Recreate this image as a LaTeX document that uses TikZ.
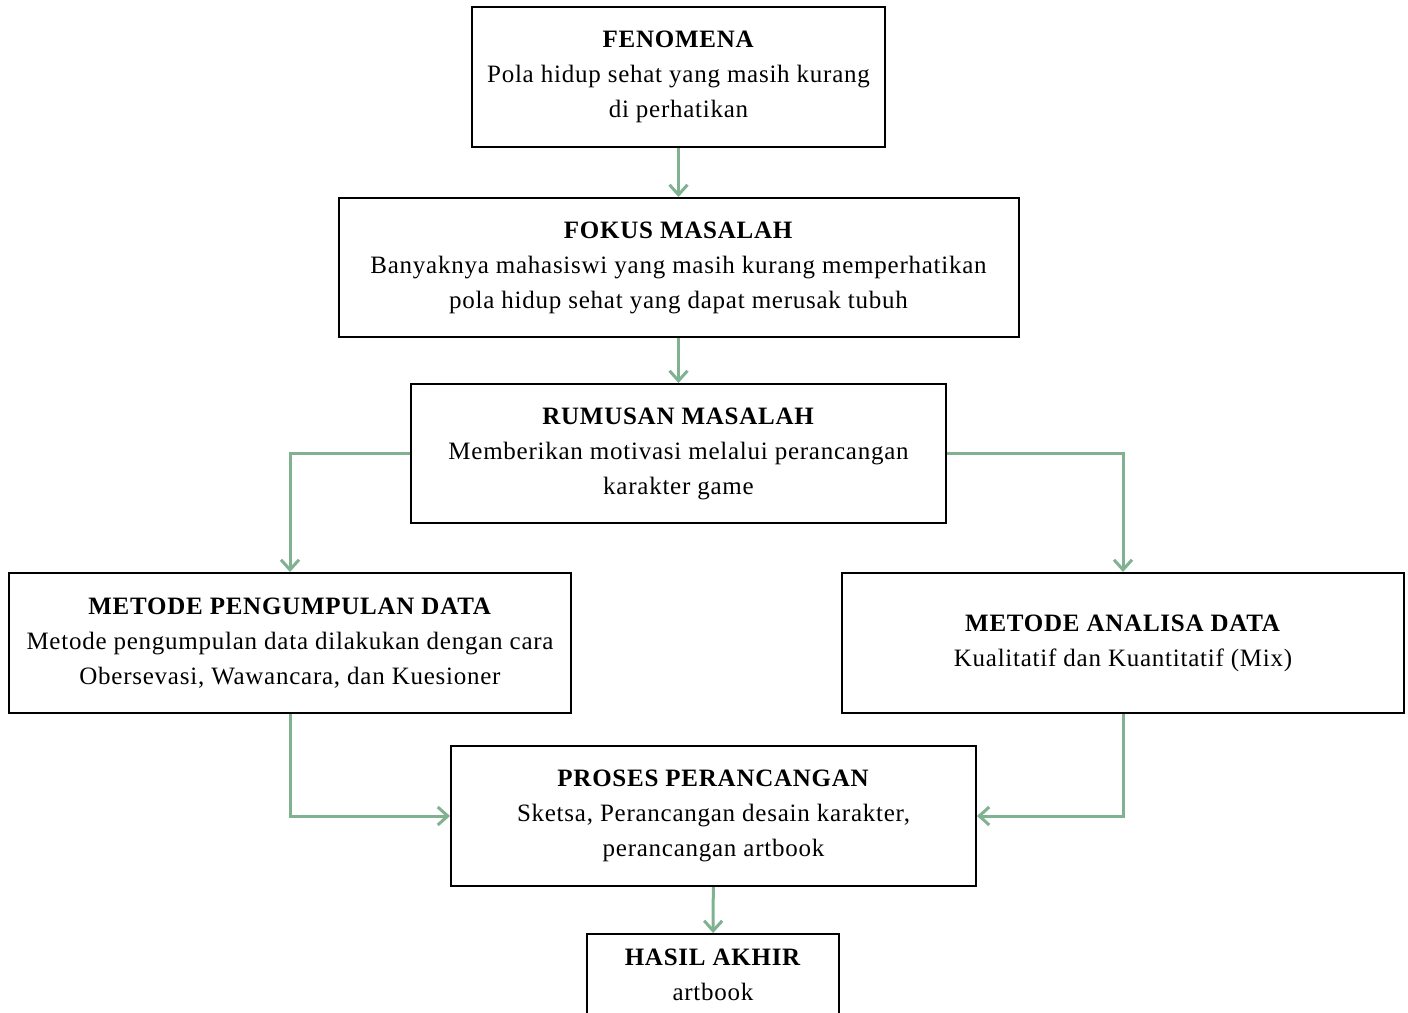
\documentclass[tikz,border=0pt]{standalone}
\usepackage{fontspec}
\setmainfont{Liberation Serif}[LetterSpace=3]
\usetikzlibrary{arrows.meta, positioning}
\definecolor{hijau}{RGB}{128,178,145}

\begin{document}
\begin{tikzpicture}[
    x=1pt, y=1pt,
    punkt/.style = {rectangle, draw, line width=1pt, align=center, inner sep=0pt,
                    font=\fontsize{12.5}{17.5}\selectfont},
    pil/.style = {hijau, line width=1.5pt, -{Straight Barb[length=5pt,width=9pt]}},
    ]
  \useasboundingbox (0,0) rectangle (704,-506);

  \node[punkt, minimum width=206.5pt, minimum height=70pt] (fenomena) at (339.25,-38.5)
    {\textbf{FENOMENA}\\Pola hidup sehat yang masih kurang\\di perhatikan} ;
  \node[punkt, minimum width=340pt, minimum height=69.5pt] (fokus) [below=24.5pt of fenomena]
    {\textbf{FOKUS MASALAH}\\Banyaknya mahasiswi yang masih kurang memperhatikan\\pola hidup sehat yang dapat merusak tubuh} ;
  \node[punkt, minimum width=267.5pt, minimum height=69.5pt] (rumusan) [below=22.5pt of fokus]
    {\textbf{RUMUSAN MASALAH}\\Memberikan motivasi melalui perancangan\\karakter game} ;

  \node[punkt, minimum width=281pt, minimum height=70pt] (pengumpulan) at (145,-321.5)
    {\textbf{METODE PENGUMPULAN DATA}\\Metode pengumpulan data dilakukan dengan cara\\Obersevasi, Wawancara, dan Kuesioner} ;
  \node[punkt, minimum width=281pt, minimum height=70pt] (analisa) at (561.5,-321.5)
    {\textbf{METODE ANALISA DATA}\\Kualitatif dan Kuantitatif (Mix)} ;

  \node[punkt, minimum width=262.5pt, minimum height=70pt] (proses) at (356.75,-408)
    {\textbf{PROSES PERANCANGAN}\\Sketsa, Perancangan desain karakter,\\perancangan artbook} ;
  \node[punkt, minimum width=126pt, minimum height=40.5pt, anchor=north] (hasil) at (356.5,-466.5)
    {\textbf{HASIL AKHIR}\\artbook} ;

  \draw[pil] (fenomena) -- (fokus) ;
  \draw[pil] (fokus) -- (rumusan) ;
  \draw[pil] (rumusan.west) -| (pengumpulan.north) ;
  \draw[pil] (rumusan.east) -| (analisa.north) ;
  \draw[pil] (pengumpulan.south) |- (proses.west) ;
  \draw[pil] (analisa.south) |- (proses.east) ;
  \draw[pil] (proses) -- (hasil) ;
\end{tikzpicture}
\end{document}
